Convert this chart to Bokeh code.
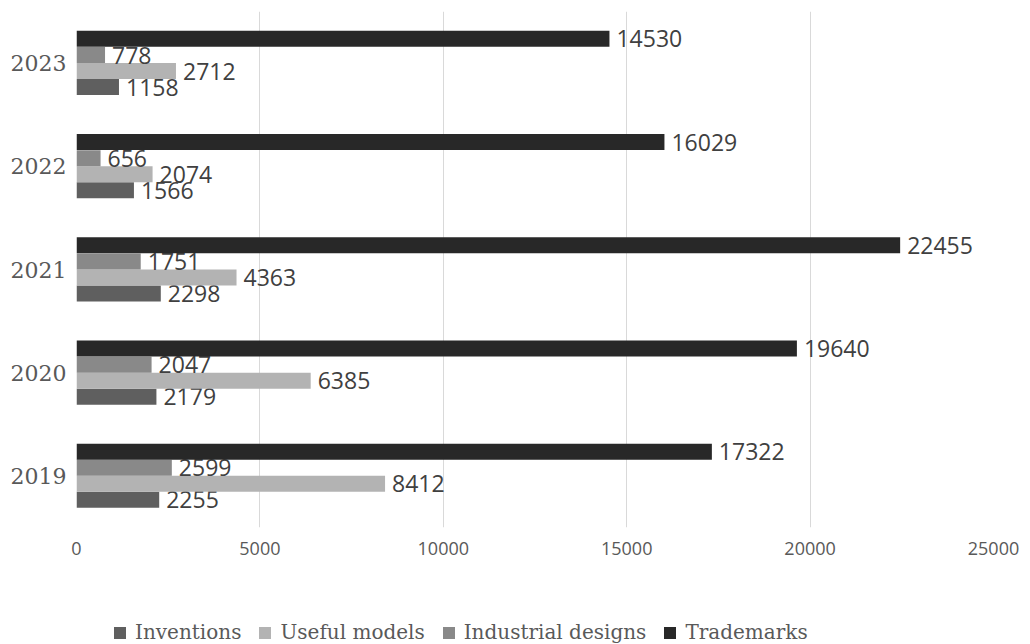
from bokeh.plotting import figure
from bokeh.layouts import column
from bokeh.models import ColumnDataSource, Range1d, FactorRange, Legend, LegendItem, SingleIntervalTicker
from bokeh.transform import dodge
from bokeh.core.properties import value
from bokeh.embed import file_html
from bokeh.resources import INLINE

years = ["2019", "2020", "2021", "2022", "2023"]
inventions = [2255, 2179, 2298, 1566, 1158]
useful_models = [8412, 6385, 4363, 2074, 2712]
industrial_designs = [2599, 2047, 1751, 656, 778]
trademarks = [17322, 19640, 22455, 16029, 14530]

series = [
    ("Inventions", inventions, "#5f5f5f", -0.232),
    ("Useful models", useful_models, "#b3b3b3", -0.077),
    ("Industrial designs", industrial_designs, "#898989", 0.078),
    ("Trademarks", trademarks, "#282828", 0.235),
]

p = figure(width=1030, height=600, output_backend="svg", toolbar_location=None,
           y_range=FactorRange(*years), x_range=Range1d(0, 25000),
           min_border_left=76, min_border_right=37, min_border_top=11, min_border_bottom=73)
p.outline_line_color = None
p.background_fill_color = "white"

# legend strip below the chart
lg = figure(width=1030, height=44, output_backend="svg", toolbar_location=None,
            x_range=Range1d(0, 1), y_range=Range1d(0, 1),
            x_axis_location=None, y_axis_location=None,
            min_border_left=0, min_border_right=0, min_border_top=0, min_border_bottom=0)
lg.outline_line_color = None
lg.xgrid.visible = False
lg.ygrid.visible = False

items = []
for name, vals, color, off in series:
    src = ColumnDataSource(dict(year=years, v=vals, lab=[str(x) for x in vals]))
    p.hbar(y=dodge("year", off, range=p.y_range), right="v", left=0, height=0.155,
           fill_color=color, line_color=None, source=src)
    p.text(x="v", y=dodge("year", off, range=p.y_range), text="lab", source=src,
           x_offset=7, text_baseline="middle", text_align="left",
           text_font=value("Open Sans"), text_font_size="23px", text_color="#404040")
    r = lg.hbar(y=0.5, right=0, left=0, height=0, fill_color=color, line_color=None)
    items.append(LegendItem(label=name, renderers=[r]))

p.xaxis.ticker = SingleIntervalTicker(interval=5000)
p.xaxis.axis_line_color = None
p.xaxis.major_tick_line_color = None
p.xaxis.minor_tick_line_color = None
p.xaxis.major_label_text_font = "Open Sans"
p.xaxis.major_label_text_font_size = "18px"
p.xaxis.major_label_text_color = "#595959"
p.xaxis.major_label_standoff = 8

p.yaxis.axis_line_color = None
p.yaxis.major_tick_line_color = None
p.yaxis.minor_tick_line_color = None
p.yaxis.major_label_text_font = "DejaVu Serif"
p.yaxis.major_label_text_font_size = "22px"
p.yaxis.major_label_text_color = "#595959"
p.yaxis.major_label_standoff = 4

p.xgrid.grid_line_color = "#d9d9d9"
p.ygrid.grid_line_color = None

legend = Legend(items=items, location=(36, 0), orientation="horizontal",
                glyph_width=15, glyph_height=15, label_standoff=8, spacing=16,
                padding=0, margin=0, border_line_color=None, background_fill_alpha=0,
                label_text_font="DejaVu Serif", label_text_font_size="20px",
                label_text_color="#595959")
lg.add_layout(legend, "center")

layout = column(p, lg, spacing=0)
open("out.html", "w").write(file_html(layout, INLINE))
